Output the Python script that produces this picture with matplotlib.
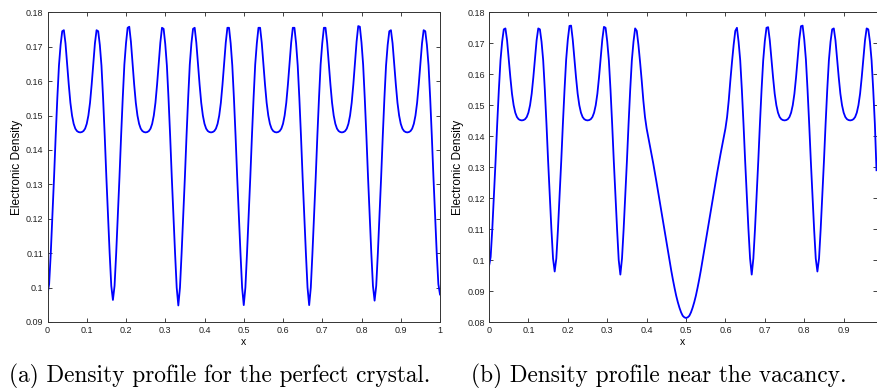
import numpy as np
import matplotlib
matplotlib.use("Agg")
import matplotlib.pyplot as plt

# Densite electronique lue sur la figure, pas de 1/240 en x
# (a) cristal parfait, x de 0 a 1
dens_a = [
    0.0980, 0.1010, 0.1100, 0.1210, 0.1320, 0.1440, 0.1550, 0.1645, 0.1705, 0.1745,
    0.1748, 0.1710, 0.1650, 0.1590, 0.1537, 0.1500, 0.1476, 0.1462, 0.1455, 0.1452,
    0.1451, 0.1452, 0.1455, 0.1462, 0.1476, 0.1500, 0.1537, 0.1590, 0.1650, 0.1710,
    0.1748, 0.1745, 0.1705, 0.1645, 0.1550, 0.1440, 0.1320, 0.1210, 0.1100, 0.1005,
    0.0964, 0.1005, 0.1100, 0.1210, 0.1320, 0.1440, 0.1550, 0.1648, 0.1710, 0.1755,
    0.1758, 0.1715, 0.1652, 0.1590, 0.1537, 0.1500, 0.1476, 0.1462, 0.1455, 0.1452,
    0.1451, 0.1452, 0.1455, 0.1462, 0.1476, 0.1500, 0.1537, 0.1590, 0.1652, 0.1712,
    0.1755, 0.1752, 0.1708, 0.1645, 0.1550, 0.1440, 0.1320, 0.1210, 0.1100, 0.1000,
    0.0948, 0.1000, 0.1100, 0.1210, 0.1320, 0.1440, 0.1550, 0.1648, 0.1710, 0.1752,
    0.1755, 0.1712, 0.1652, 0.1590, 0.1537, 0.1500, 0.1476, 0.1462, 0.1455, 0.1452,
    0.1451, 0.1452, 0.1455, 0.1462, 0.1476, 0.1500, 0.1537, 0.1590, 0.1652, 0.1712,
    0.1755, 0.1755, 0.1710, 0.1645, 0.1550, 0.1440, 0.1320, 0.1210, 0.1100, 0.1000,
    0.0949, 0.1000, 0.1100, 0.1210, 0.1320, 0.1440, 0.1550, 0.1648, 0.1710, 0.1755,
    0.1755, 0.1712, 0.1652, 0.1590, 0.1537, 0.1500, 0.1476, 0.1462, 0.1455, 0.1452,
    0.1451, 0.1452, 0.1455, 0.1462, 0.1476, 0.1500, 0.1537, 0.1590, 0.1652, 0.1712,
    0.1755, 0.1755, 0.1710, 0.1645, 0.1550, 0.1440, 0.1320, 0.1210, 0.1100, 0.1000,
    0.0949, 0.1000, 0.1100, 0.1210, 0.1320, 0.1440, 0.1550, 0.1648, 0.1710, 0.1755,
    0.1755, 0.1712, 0.1652, 0.1590, 0.1537, 0.1500, 0.1476, 0.1462, 0.1455, 0.1452,
    0.1451, 0.1452, 0.1455, 0.1462, 0.1476, 0.1500, 0.1537, 0.1590, 0.1652, 0.1715,
    0.1760, 0.1758, 0.1712, 0.1648, 0.1550, 0.1440, 0.1320, 0.1210, 0.1100, 0.1005,
    0.0962, 0.1005, 0.1100, 0.1210, 0.1320, 0.1440, 0.1550, 0.1645, 0.1705, 0.1745,
    0.1748, 0.1710, 0.1650, 0.1590, 0.1537, 0.1500, 0.1476, 0.1462, 0.1455, 0.1452,
    0.1451, 0.1452, 0.1455, 0.1462, 0.1476, 0.1500, 0.1537, 0.1590, 0.1650, 0.1710,
    0.1748, 0.1745, 0.1705, 0.1645, 0.1550, 0.1440, 0.1320, 0.1210, 0.1100, 0.1010,
    0.0980,
]

# (b) pres de la lacune (x = 0.5), x de 0 a 236/240
dens_b = [
    0.0980, 0.1010, 0.1100, 0.1210, 0.1320, 0.1440, 0.1550, 0.1645, 0.1705, 0.1745,
    0.1748, 0.1710, 0.1650, 0.1590, 0.1537, 0.1500, 0.1476, 0.1462, 0.1455, 0.1452,
    0.1451, 0.1452, 0.1455, 0.1462, 0.1476, 0.1500, 0.1537, 0.1590, 0.1650, 0.1710,
    0.1748, 0.1745, 0.1705, 0.1645, 0.1550, 0.1440, 0.1320, 0.1210, 0.1100, 0.1005,
    0.0963, 0.1005, 0.1100, 0.1210, 0.1320, 0.1440, 0.1550, 0.1648, 0.1712, 0.1756,
    0.1757, 0.1712, 0.1652, 0.1590, 0.1537, 0.1500, 0.1476, 0.1462, 0.1455, 0.1452,
    0.1451, 0.1452, 0.1455, 0.1462, 0.1476, 0.1500, 0.1537, 0.1590, 0.1652, 0.1712,
    0.1753, 0.1750, 0.1706, 0.1645, 0.1550, 0.1440, 0.1320, 0.1210, 0.1100, 0.1000,
    0.0953, 0.1005, 0.1100, 0.1210, 0.1320, 0.1440, 0.1550, 0.1645, 0.1705, 0.1748,
    0.1740, 0.1695, 0.1640, 0.1580, 0.1515, 0.1462, 0.1425, 0.1397, 0.1370, 0.1342,
    0.1313, 0.1283, 0.1252, 0.1220, 0.1189, 0.1157, 0.1125, 0.1093, 0.1061, 0.1029,
    0.0997, 0.0966, 0.0937, 0.0910, 0.0885, 0.0864, 0.0846, 0.0831, 0.0820, 0.0815,
    0.0813, 0.0815, 0.0820, 0.0831, 0.0846, 0.0864, 0.0885, 0.0910, 0.0937, 0.0966,
    0.0997, 0.1029, 0.1061, 0.1093, 0.1125, 0.1157, 0.1189, 0.1220, 0.1252, 0.1283,
    0.1313, 0.1342, 0.1370, 0.1397, 0.1425, 0.1462, 0.1515, 0.1580, 0.1640, 0.1695,
    0.1740, 0.1750, 0.1705, 0.1645, 0.1550, 0.1440, 0.1320, 0.1210, 0.1100, 0.1005,
    0.0953, 0.1005, 0.1100, 0.1210, 0.1320, 0.1440, 0.1550, 0.1645, 0.1708, 0.1750,
    0.1752, 0.1710, 0.1650, 0.1590, 0.1537, 0.1500, 0.1476, 0.1462, 0.1455, 0.1452,
    0.1451, 0.1452, 0.1455, 0.1462, 0.1476, 0.1500, 0.1537, 0.1590, 0.1652, 0.1713,
    0.1755, 0.1757, 0.1712, 0.1648, 0.1550, 0.1440, 0.1320, 0.1210, 0.1100, 0.1005,
    0.0963, 0.1005, 0.1100, 0.1210, 0.1320, 0.1440, 0.1550, 0.1645, 0.1705, 0.1745,
    0.1748, 0.1710, 0.1650, 0.1590, 0.1537, 0.1500, 0.1476, 0.1462, 0.1455, 0.1452,
    0.1451, 0.1452, 0.1455, 0.1462, 0.1476, 0.1500, 0.1537, 0.1590, 0.1650, 0.1710,
    0.1748, 0.1745, 0.1705, 0.1645, 0.1550, 0.1440, 0.1290,
]

pas_x = 1.0 / 240
x_a = np.arange(len(dens_a)) * pas_x
x_b = np.arange(len(dens_b)) * pas_x

yticks_a = [0.09, 0.10, 0.11, 0.12, 0.13, 0.14, 0.15, 0.16, 0.17, 0.18]
ylabels_a = ["0.09", "0.1", "0.11", "0.12", "0.13", "0.14", "0.15", "0.16", "0.17", "0.18"]
yticks_b = [0.08] + yticks_a
ylabels_b = ["0.08"] + ylabels_a
xticks_a = [0, 0.1, 0.2, 0.3, 0.4, 0.5, 0.6, 0.7, 0.8, 0.9, 1.0]
xlabels_a = ["0", "0.1", "0.2", "0.3", "0.4", "0.5", "0.6", "0.7", "0.8", "0.9", "1"]
xticks_b = xticks_a[:-1]
xlabels_b = xlabels_a[:-1]

legende_a = "(a) Density profile for the perfect crystal."
legende_b = "(b) Density profile near the vacancy."

POLICE = "Liberation Sans"


def style_matlab(ax, xt, xl, yt, yl):
    ax.set_xticks(xt)
    ax.set_xticklabels(xl, fontsize=6.5, family=POLICE)
    ax.set_yticks(yt)
    ax.set_yticklabels(yl, fontsize=6.5, family=POLICE)
    ax.tick_params(direction="in", length=3, width=0.6, top=True, right=True,
                   pad=3, colors="#222222")
    for s in ax.spines.values():
        s.set_linewidth(0.7)
        s.set_color("#333333")
    ax.set_xlabel("x", fontsize=7.5, family=POLICE, labelpad=1.5)
    ax.set_ylabel("Electronic Density", fontsize=8.6, family=POLICE, labelpad=2)


fig = plt.figure(figsize=(8.77, 3.88), dpi=100)
ax1 = fig.add_axes([47.5 / 877, 1 - 322 / 388, (440 - 47.5) / 877, (322 - 12.3) / 388])
ax2 = fig.add_axes([489 / 877, 1 - 322 / 388, (876.5 - 489) / 877, (322 - 12.3) / 388])

ax1.plot(x_a, dens_a, color="#0000ff", linewidth=1.3)
ax1.set_xlim(0, 1)
ax1.set_ylim(0.09, 0.18)
style_matlab(ax1, xticks_a, xlabels_a, yticks_a, ylabels_a)

ax2.plot(x_b, dens_b, color="#0000ff", linewidth=1.3)
ax2.set_xlim(0, x_b[-1])
ax2.set_ylim(0.08, 0.18)
style_matlab(ax2, xticks_b, xlabels_b, yticks_b, ylabels_b)

fig.text(220 / 877, 1 - 382 / 388, legende_a, family="cmr10", fontsize=16.8,
         ha="center", va="baseline")
fig.text(659 / 877, 1 - 382 / 388, legende_b, family="cmr10", fontsize=16.8,
         ha="center", va="baseline")

fig.savefig("out.png", dpi=100)
